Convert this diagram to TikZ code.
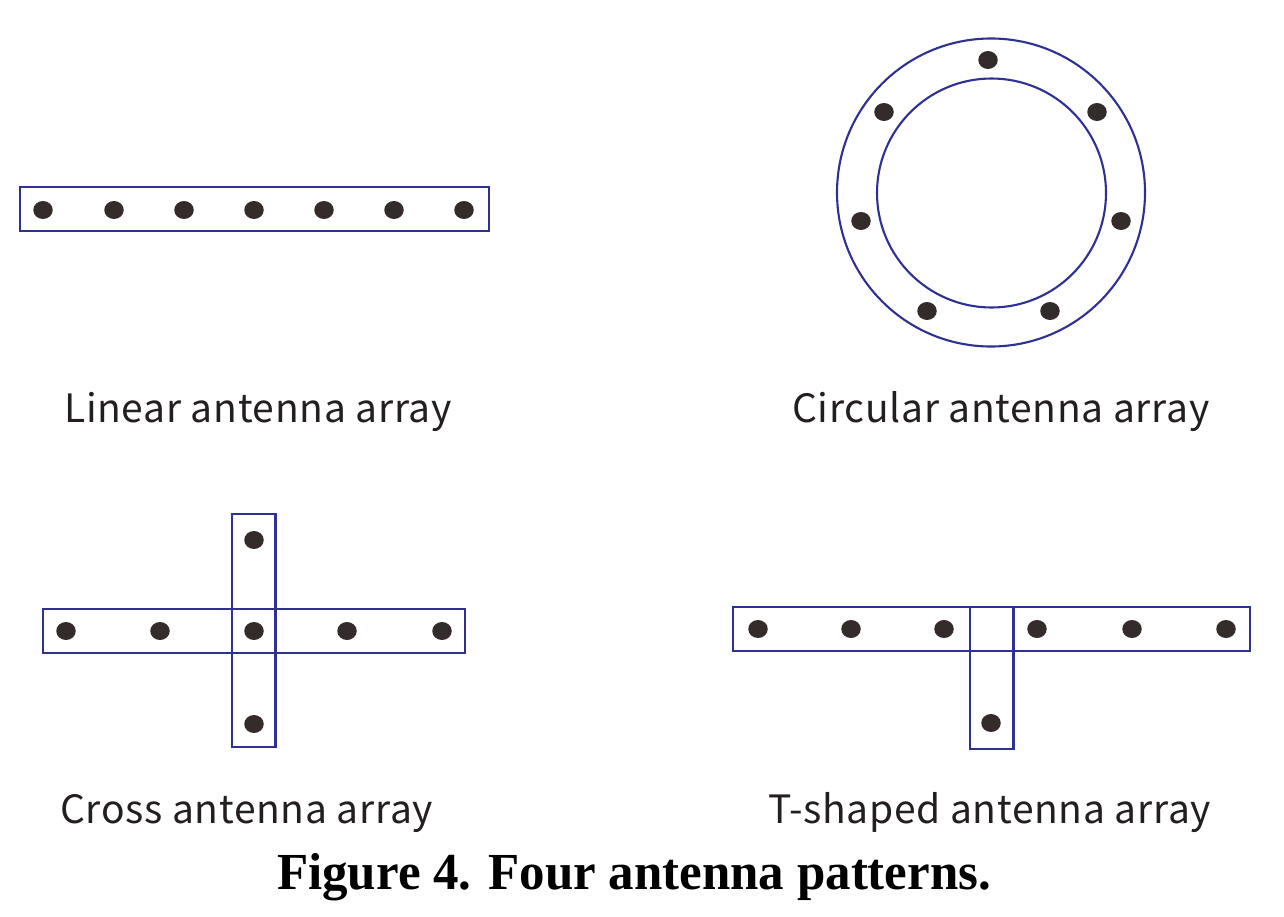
\documentclass[tikz,border=0pt]{standalone}
\usepackage{fontspec}
\setmainfont{Liberation Serif}
\newfontfamily\labelfont[LetterSpace=1.8]{Noto Sans CJK SC}
\usetikzlibrary{shapes.geometric}
\definecolor{arrblue}{HTML}{2E3192}
\definecolor{dotcol}{HTML}{332C2B}
\definecolor{txtcol}{HTML}{231F20}
\tikzset{
  frame/.style={draw=arrblue, line width=2.1pt},
  elem/.style={ellipse, fill=dotcol, inner sep=0pt, minimum width=19.5pt, minimum height=18pt},
  lbl/.style={anchor=base west, inner sep=0pt, text=txtcol, font=\labelfont\fontsize{39}{44}\selectfont},
  figcaption/.style={anchor=base west, inner sep=0pt, text=black, font=\bfseries\fontsize{52}{58}\selectfont}
}
\begin{document}
\begin{tikzpicture}[x=1pt,y=-1pt]
\useasboundingbox[fill=white] (0,0) rectangle (1284,916);
% Linear
\draw[frame] (20,187) rectangle (489,231);
\foreach \x [count=\i] in {43,114,184,254,324,394,464}
  \node[elem] (L\i) at (\x,210) {};
\node[lbl] (tL) at (64,422) {Linear antenna array};
% Circular
\draw[frame] (991,192.5) circle (154);
\draw[frame] (991.5,193) circle (114.5);
\node[elem] (C1) at (988,60) {};
\node[elem] (C2) at (884,112) {};
\node[elem] (C3) at (1097,112) {};
\node[elem] (C4) at (861,221) {};
\node[elem] (C5) at (1121,221) {};
\node[elem] (C6) at (927,311) {};
\node[elem] (C7) at (1050,311) {};
\node[lbl] (tC) at (792,422) {Circular antenna array};
% Cross
\draw[frame] (43,609) rectangle (465,653);
\draw[frame] (232,514) rectangle (275.5,747);
\foreach \x [count=\i] in {66,160,254,347,442}
  \node[elem] (X\i) at (\x,631) {};
\node[elem] (X6) at (254,540) {};
\node[elem] (X7) at (254,724) {};
\node[lbl] (tX) at (60,823) {Cross antenna array};
% T-shaped
\draw[frame] (733,607) rectangle (1250,651);
\draw[frame] (970,607) rectangle (1013.5,749);
\foreach \x [count=\i] in {758,851,944,1037,1132,1226}
  \node[elem] (T\i) at (\x,629) {};
\node[elem] (T7) at (991,723) {};
\node[lbl] (tT) at (768,823) {T-shaped antenna array};
% Caption
\node[figcaption] (figcap) at (277,889) {\scalebox{0.98}[1]{Figure 4. Four antenna patterns.}};
\end{tikzpicture}
\end{document}
